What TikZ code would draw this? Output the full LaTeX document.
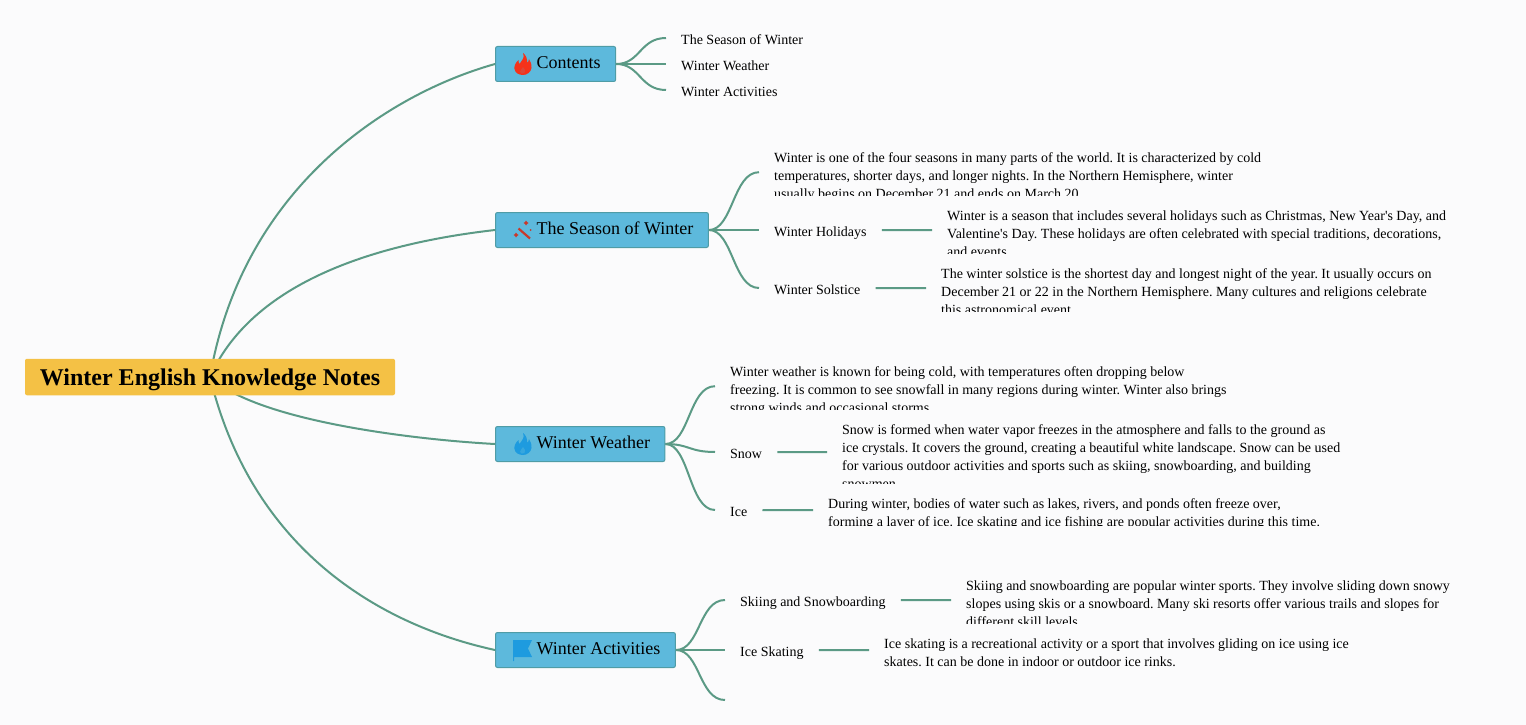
\documentclass[tikz,border=0pt]{standalone}
\usepackage{fontspec}
\setmainfont{Liberation Serif}[Ligatures=TeXOff]
\usetikzlibrary{backgrounds}
\definecolor{paper}{HTML}{FBFBFC}
\definecolor{branch}{HTML}{5B9A85}
\definecolor{topicblue}{HTML}{5DB9DC}
\definecolor{topicedge}{HTML}{4F9CA6}
\definecolor{rootgold}{HTML}{F4C145}
\definecolor{flamered}{HTML}{F5321A}
\definecolor{flameblue}{HTML}{1E9BDF}
\definecolor{wandred}{HTML}{C8392B}
\tikzset{
	rootbox/.style={fill=rootgold,rounded corners=2pt,minimum width=370pt,minimum height=36.5pt,inner sep=0pt,text height=21pt,text depth=5pt,font=\fontsize{24}{28}\selectfont\bfseries},
	topic/.style={draw=topicedge,line width=1pt,fill=topicblue,rounded corners=2pt,minimum height=35pt,inner ysep=0pt,inner xsep=15pt,text height=13pt,text depth=4pt,font=\fontsize{18}{22}\selectfont},
	leaf/.style={inner xsep=15pt,inner ysep=0pt,text height=15.6pt,text depth=3pt,font=\fontsize{14}{18}\selectfont},
	note/.style={inner xsep=15pt,inner ysep=0pt,anchor=north west,font=\fontsize{14}{18}\selectfont},
	branchline/.style={draw=branch,line width=2pt}
}
% text box of fixed height, the lines that do not fit are cut off
\newcommand{\notebox}[5]{
	\begin{scope}
		\clip (#2,#3) rectangle ++(560,#4-0.7);
		\node[note] (#1) at (#2,#3) {\parbox[t][#4pt][t]{530pt}{\raggedright\rule{0pt}{14pt}#5\vss}};
	\end{scope}
}
% curve from a box to a branch end
\newcommand{\twig}[2]{
	\draw[branchline] (#1.east) .. controls +(24,0) and ([xshift=-26pt]#2.west) .. (#2.west);
}
\newcommand{\flame}[1]{
	\fill[#1] (28,-11) .. controls (30,-6) and (27,-4) .. (24.5,0) .. controls (23.5,-1) and (23.5,-3) .. (23.5,-4)
		.. controls (20,-1) and (19,3) .. (19.5,5) .. controls (20,9) and (24,11) .. (28,11)
		.. controls (32,11) and (36,8) .. (36.5,4) .. controls (37,0) and (35,-3) .. (34,-5)
		.. controls (34,-3) and (33,-2) .. (32,-1) .. controls (32.5,-5) and (31,-9) .. (28,-11) -- cycle;
}
\newcommand{\flamecore}[1]{
	\fill[#1] (28,3) .. controls (30,5) and (31,7) .. (29.5,9) .. controls (28,10) and (25.5,10) .. (25,8) .. controls (25,6) and (27,5) .. (28,3) -- cycle;
}
\frenchspacing
\begin{document}
\begin{tikzpicture}[x=1pt,y=-1pt]
	\useasboundingbox (0,0) rectangle (1526,725);

	\node[rootbox] (root) at (210,377) {Winter English Knowledge Notes};

	\node[topic,anchor=west] (contents) at (495,64) {\hspace*{26.2pt}Contents};
	\node[topic,anchor=west] (season) at (495,230) {\hspace*{26.2pt}The Season of Winter};
	\node[topic,anchor=west] (weather) at (495,444) {\hspace*{26.2pt}Winter Weather};
	\node[topic,anchor=west] (activities) at (495,650) {\hspace*{26.2pt}Winter Activities};

	% icons
	\begin{scope}[shift={(contents.west)}]
		\flame{flamered}
		\flamecore{flamered!85!topicblue}
	\end{scope}
	\begin{scope}[shift={(season.west)}]
		\draw[wandred,line width=2.2pt] (23.5,-1.5) -- (35,8.5);
		\fill[wandred] (21,2.5) -- (22,4) -- (23.5,5) -- (22,6) -- (21,7.5) -- (20,6) -- (18.5,5) -- (20,4) -- cycle;
		\fill[wandred] (31,-9.5) -- (32,-8) -- (33.5,-7) -- (32,-6) -- (31,-4.5) -- (30,-6) -- (28.5,-7) -- (30,-8) -- cycle;
		\fill[wandred] (35.5,0) circle (1pt);
	\end{scope}
	\begin{scope}[shift={(weather.west)}]
		\flame{flameblue}
		\flamecore{topicblue!40!flameblue}
	\end{scope}
	\begin{scope}[shift={(activities.west)}]
		\fill[flameblue] (18,-10) -- (37,-10) -- (33,-1.5) -- (37,7) -- (19,7) -- (19,11) -- (18,11) -- cycle;
	\end{scope}

	\node[leaf,anchor=west] (c1) at (666,38) {The Season of Winter};
	\node[leaf,anchor=west] (c2) at (666,64) {Winter Weather};
	\node[leaf,anchor=west] (c3) at (666,90) {Winter Activities};

	\notebox{s1}{759}{148}{48}{Winter is one of the four seasons in many parts of the world. It is characterized by cold\\temperatures, shorter days, and longer nights. In the Northern Hemisphere, winter\\usually begins on December 21 and ends on March 20.}
	\node[leaf,anchor=west] (s2) at (759,230) {Winter Holidays};
	\node[leaf,anchor=west] (s3) at (759,288) {Winter Solstice};
	\notebox{s2n}{932}{206}{48}{Winter is a season that includes several holidays such as Christmas, New Year's Day, and\\Valentine's Day. These holidays are often celebrated with special traditions, decorations,\\and events.}
	\notebox{s3n}{926}{264}{48}{The winter solstice is the shortest day and longest night of the year. It usually occurs on\\December 21 or 22 in the Northern Hemisphere. Many cultures and religions celebrate\\this astronomical event.}

	\notebox{w1}{715}{362}{48}{Winter weather is known for being cold, with temperatures often dropping below\\freezing. It is common to see snowfall in many regions during winter. Winter also brings\\strong winds and occasional storms.}
	\node[leaf,anchor=west] (w2) at (715,452) {Snow};
	\node[leaf,anchor=west] (w3) at (715,510) {Ice};
	\notebox{w2n}{827}{420}{64}{Snow is formed when water vapor freezes in the atmosphere and falls to the ground as\\ice crystals. It covers the ground, creating a beautiful white landscape. Snow can be used\\for various outdoor activities and sports such as skiing, snowboarding, and building\\snowmen.}
	\notebox{w3n}{813}{494}{32}{During winter, bodies of water such as lakes, rivers, and ponds often freeze over,\\forming a layer of ice. Ice skating and ice fishing are popular activities during this time.}

	\node[leaf,anchor=west] (a1) at (725,600) {Skiing and Snowboarding};
	\node[leaf,anchor=west] (a2) at (725,650) {Ice Skating};
	\coordinate (a3) at (725,700);
	\notebox{a1n}{951}{576}{48}{Skiing and snowboarding are popular winter sports. They involve sliding down snowy\\slopes using skis or a snowboard. Many ski resorts offer various trails and slopes for\\different skill levels.}
	\node[note] (a2n) at (869,634) {\parbox[t][32pt][t]{530pt}{\raggedright\rule{0pt}{14pt}Ice skating is a recreational activity or a sport that involves gliding on ice using ice\\skates. It can be done in indoor or outdoor ice rinks.\vss}};

	\begin{pgfonlayer}{background}
		\fill[paper] (0,0) rectangle (1526,725);
		\draw[branchline] (root.center) .. controls (242,190) and (385,95) .. (contents.west);
		\draw[branchline] (root.center) .. controls (255,276) and (390,242) .. (season.west);
		\draw[branchline] (root.center) .. controls (258,422) and (420,440) .. (weather.west);
		\draw[branchline] (root.center) .. controls (252,550) and (380,625) .. (activities.west);
		\twig{contents}{c1}
		\twig{contents}{c2}
		\twig{contents}{c3}
		\twig{season}{s1}
		\twig{season}{s2}
		\twig{season}{s3}
		\twig{weather}{w1}
		\twig{weather}{w2}
		\twig{weather}{w3}
		\twig{activities}{a1}
		\twig{activities}{a2}
		\draw[branchline] (activities.east) .. controls +(24,0) and (699,700) .. (a3);
		\draw[branchline] (s2.east) -- (s2n.west);
		\draw[branchline] (s3.east) -- (s3n.west);
		\draw[branchline] (w2.east) -- (w2n.west);
		\draw[branchline] (w3.east) -- (w3n.west);
		\draw[branchline] (a1.east) -- (a1n.west);
		\draw[branchline] (a2.east) -- (a2n.west);
	\end{pgfonlayer}
\end{tikzpicture}
\end{document}
